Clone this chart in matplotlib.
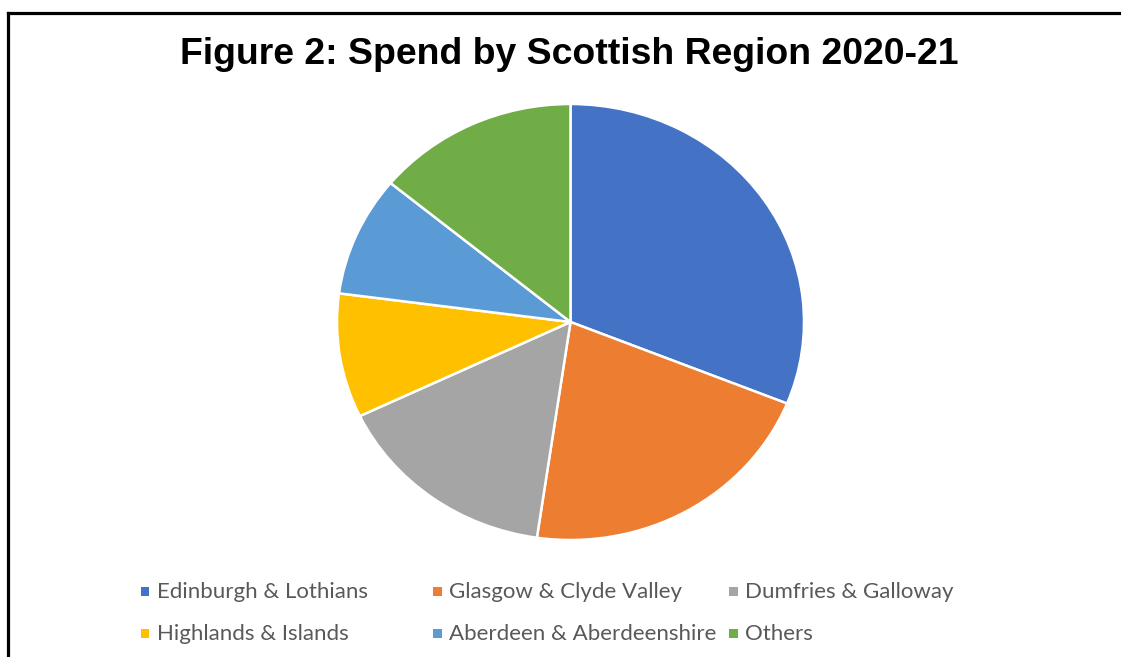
import matplotlib.pyplot as plt
from matplotlib.lines import Line2D
from matplotlib.patches import Rectangle

# spend share by region (percent)
regions = ["Edinburgh & Lothians", "Glasgow & Clyde Valley", "Dumfries & Galloway",
           "Highlands & Islands", "Aberdeen & Aberdeenshire", "Others"]
shares = [31.1, 21.2, 15.6, 9.2, 8.9, 14.0]
colours = ["#4472C4", "#ED7D31", "#A5A5A5", "#FFC000", "#5B9BD5", "#70AD47"]

W, H = 1121, 657
fig = plt.figure(figsize=(W / 100, H / 100), dpi=100)

# border on top and left only, like the cropped screenshot
fig.add_artist(Line2D([8 / W, 1.0], [1 - 13 / H, 1 - 13 / H], color="black", lw=2.3, transform=fig.transFigure))
fig.add_artist(Line2D([8 / W, 8 / W], [0.0, 1 - 13 / H], color="black", lw=2.3, transform=fig.transFigure))

fig.text(569 / W, 1 - 55 / H, "Figure 2: Spend by Scottish Region 2020-21", ha="center", va="center",
         fontsize=26.9, fontweight="bold", family="Liberation Sans")

# pie is a bit stretched sideways in the original screenshot
ax = fig.add_axes([337 / W, 1 - 540 / H, 467 / W, 436 / H])
wedges, _ = ax.pie(shares, colors=colours, startangle=90, counterclock=False,
                   wedgeprops=dict(edgecolor="white", linewidth=1.8))
ax.set_xlim(-1, 1)
ax.set_ylim(-1, 1)
ax.set_aspect("auto")
ax.axis("off")

# legend laid out row by row, three equal columns
col_x = [145, 437, 733]
row_y = [592, 634]
for i, (name, c) in enumerate(zip(regions, colours)):
    x = col_x[i % 3]
    y = row_y[i // 3]
    fig.add_artist(Rectangle(((x - 4.5) / W, 1 - (y + 3.5) / H), 9 / W, 9 / H,
                             facecolor=c, edgecolor="none", transform=fig.transFigure))
    fig.text((x + 12) / W, 1 - y / H, name, ha="left", va="center", color="#595959",
             fontsize=16, family="Lato")

fig.savefig("out.png", dpi=100)
